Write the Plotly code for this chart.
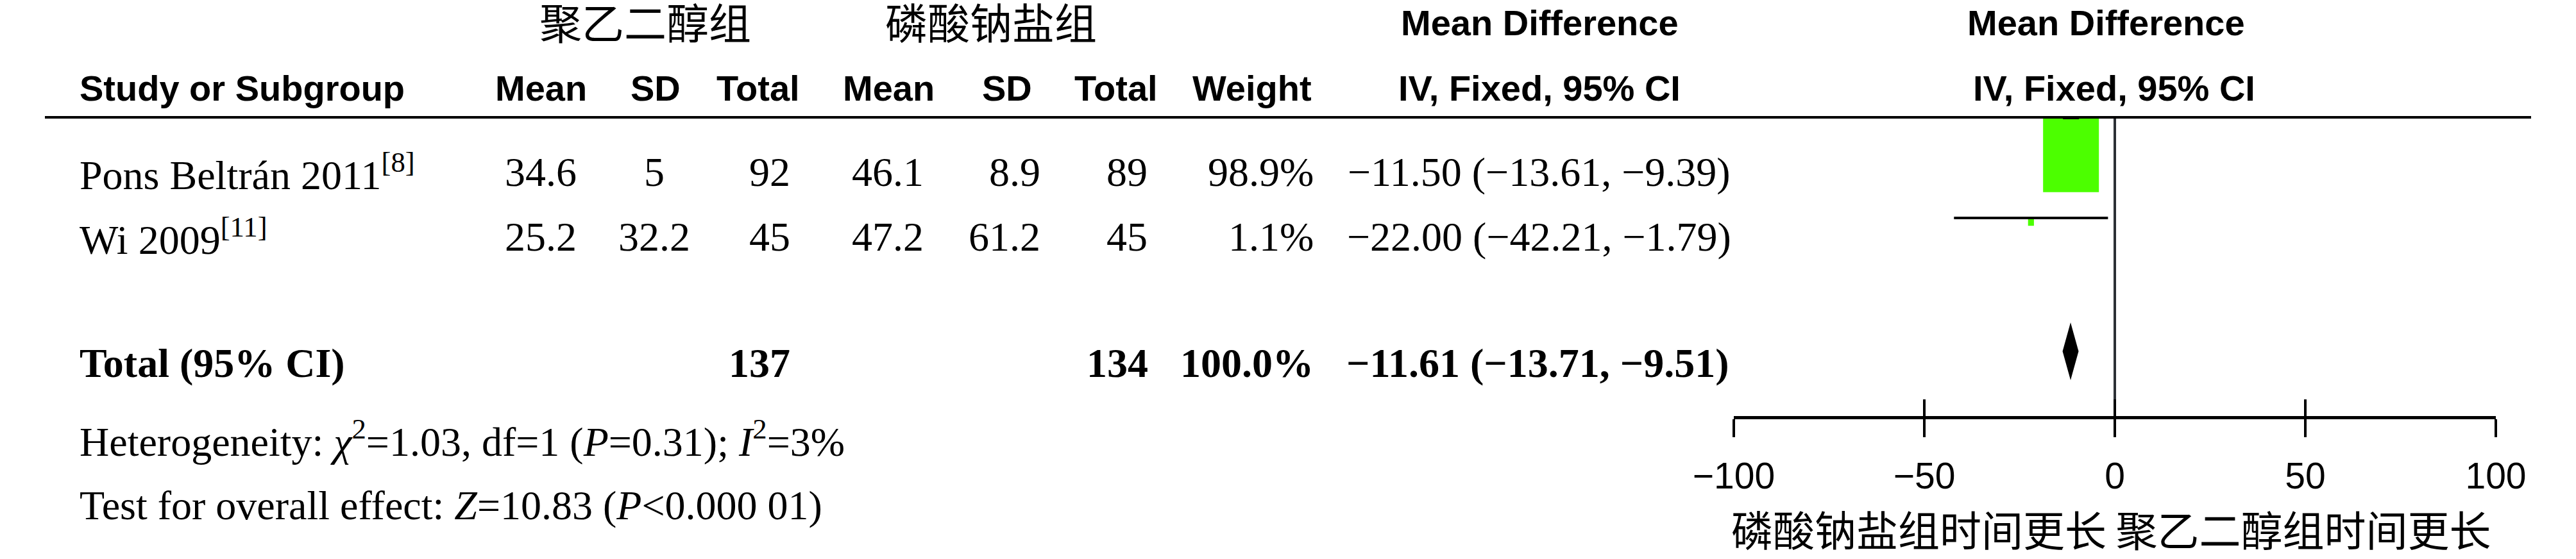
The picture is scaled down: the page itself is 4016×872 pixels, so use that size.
import math
import plotly.graph_objects as go

W, H = 4016, 872

# ---- study data -------------------------------------------------------
studies = ["Pons Beltrán 2011", "Wi 2009"]
study_refs = ["8", "11"]
peg_mean = [34.6, 25.2]
peg_sd = [5, 32.2]
peg_total = [92, 45]
sp_mean = [46.1, 47.2]
sp_sd = [8.9, 61.2]
sp_total = [89, 45]
weights = [98.9, 1.1]
md = [-11.50, -22.00]
md_low = [-13.61, -42.21]
md_high = [-9.39, -1.79]

# ---- pooled estimate --------------------------------------------------
pooled_md = -11.61
pooled_low = -13.71
pooled_high = -9.51
pooled_peg_total = 137
pooled_sp_total = 134
pooled_weight = 100.0

het_chi2, het_df, het_p, het_i2 = 1.03, 1, 0.31, 3
overall_z, overall_p = 10.83, "0.000 01"

axis_ticks = [-100, -50, 0, 50, 100]
group_labels = ["聚乙二醇组", "磷酸钠盐组"]
favours_label = "磷酸钠盐组时间更长 聚乙二醇组时间更长"

# ---- layout constants (pixel positions) ------------------------------
AX_LEFT, AX_RIGHT = 2703, 3891          # x pixels of -100 and 100
PX_PER_UNIT = (AX_RIGHT - AX_LEFT) / 200.0
Y_GROUP, Y_HEAD = 32, 137
Y_ROWS = [268, 369]
Y_TOTAL, Y_HET, Y_TEST = 566, 684, 788
Y_RULE, Y_AXIS = 183, 651
MARK_Y = [184, 340]                      # CI line height for each study
DIAMOND_Y, DIAMOND_HALF = 548, 45
SQUARE_SCALE = 1.473                     # square width (units) per sqrt(weight)
SQUARE_ASPECT = 1.33
GREEN = "#4CFF00"

HEAD_FONT = dict(family="Liberation Sans, Arial, sans-serif", size=56, color="black")
BODY_FONT = dict(family="Liberation Serif, Times New Roman, serif", size=64, color="black")
CJK_FONT = dict(family="Noto Sans CJK SC, sans-serif", size=66, color="black")
AXIS_CJK_FONT = dict(family="Noto Sans CJK SC, sans-serif", size=65, color="black")
TICK_FONT = dict(family="Liberation Sans, Arial, sans-serif", size=57, color="black")


def fmt(v, nd=2):
    return f"{v:.{nd}f}".replace("-", "−")


def num(v):
    return f"{v:g}"


fig = go.Figure()


def text(x, y, s, font, anchor="center"):
    fig.add_annotation(x=x / W, xref="paper", y=y, yref="y", text=s, showarrow=False,
                       xanchor=anchor, yanchor="middle", font=font, borderpad=0)


# ---- header ----------------------------------------------------------
text(1006, Y_GROUP, group_labels[0], CJK_FONT)
text(1545, Y_GROUP, group_labels[1], CJK_FONT)
text(2400, 35, "<b>Mean Difference</b>", HEAD_FONT)
text(3283, 35, "<b>Mean Difference</b>", HEAD_FONT)

head_cols = [(123, "Study or Subgroup", "left"), (843, "Mean", "center"), (1022, "SD", "center"),
             (1182, "Total", "center"), (1385, "Mean", "center"), (1570, "SD", "center"),
             (1740, "Total", "center"), (1952, "Weight", "center"),
             (2400, "IV, Fixed, 95% CI", "center"), (3296, "IV, Fixed, 95% CI", "center")]
for x, s, a in head_cols:
    text(x, Y_HEAD, f"<b>{s}</b>", HEAD_FONT, a)

fig.add_shape(type="line", xref="paper", yref="y", x0=70 / W, x1=3946 / W,
              y0=Y_RULE, y1=Y_RULE, line=dict(color="black", width=4))

# ---- study rows ------------------------------------------------------
for i, name in enumerate(studies):
    y = Y_ROWS[i]
    text(123, y, f"{name}<sup>[{study_refs[i]}]</sup>", BODY_FONT, "left")
    text(843, y, num(peg_mean[i]), BODY_FONT)
    text(1020, y, num(peg_sd[i]), BODY_FONT)
    text(1233, y, num(peg_total[i]), BODY_FONT, "right")
    text(1384, y, num(sp_mean[i]), BODY_FONT)
    text(1623, y, num(sp_sd[i]), BODY_FONT, "right")
    text(1790, y, num(sp_total[i]), BODY_FONT, "right")
    text(2049, y, f"{weights[i]:.1f}%", BODY_FONT, "right")
    text(2399, y, f"{fmt(md[i])} ({fmt(md_low[i])}, {fmt(md_high[i])})", BODY_FONT)

# ---- pooled row ------------------------------------------------------
text(123, Y_TOTAL, "<b>Total (95% CI)</b>", BODY_FONT, "left")
text(1233, Y_TOTAL, f"<b>{pooled_peg_total}</b>", BODY_FONT, "right")
text(1791, Y_TOTAL, f"<b>{pooled_sp_total}</b>", BODY_FONT, "right")
text(2049, Y_TOTAL, f"<b>{pooled_weight:.1f}%</b>", BODY_FONT, "right")
text(2397, Y_TOTAL, f"<b>{fmt(pooled_md)} ({fmt(pooled_low)}, {fmt(pooled_high)})</b>", BODY_FONT)

text(123, Y_HET,
     f"Heterogeneity: <i>χ</i><sup>2</sup>={het_chi2:.2f}, df={het_df} (<i>P</i>={het_p:.2f}); "
     f"<i>I</i><sup>2</sup>={het_i2}%", BODY_FONT, "left")
text(123, Y_TEST, f"Test for overall effect: <i>Z</i>={overall_z:.2f} (<i>P</i>&lt;{overall_p})",
     BODY_FONT, "left")

# ---- forest plot -----------------------------------------------------
fig.add_trace(go.Scatter(x=[0, 0], y=[Y_RULE + 1, Y_AXIS], mode="lines",
                         line=dict(color="#2c3035", width=4), hoverinfo="skip"))

for i in range(len(studies)):
    hw = SQUARE_SCALE * math.sqrt(weights[i]) / 2
    hgt = 2 * hw * PX_PER_UNIT * SQUARE_ASPECT
    top = MARK_Y[i]
    fig.add_trace(go.Scatter(
        x=[md[i] - hw, md[i] + hw, md[i] + hw, md[i] - hw, md[i] - hw],
        y=[top, top, top + hgt, top + hgt, top],
        mode="lines", fill="toself", fillcolor=GREEN, line=dict(width=0), hoverinfo="skip"))
    fig.add_trace(go.Scatter(x=[md_low[i], md_high[i]], y=[MARK_Y[i], MARK_Y[i]], mode="lines",
                             line=dict(color="black", width=4), hoverinfo="skip"))

fig.add_trace(go.Scatter(
    x=[pooled_low, pooled_md, pooled_high, pooled_md, pooled_low],
    y=[DIAMOND_Y, DIAMOND_Y - DIAMOND_HALF, DIAMOND_Y, DIAMOND_Y + DIAMOND_HALF, DIAMOND_Y],
    mode="lines", fill="toself", fillcolor="black", line=dict(width=0, color="black"),
    hoverinfo="skip"))

# upward tick marks come from an overlaid axis with inside ticks
fig.add_trace(go.Scatter(x=[0], y=[0], xaxis="x2", yaxis="y", mode="markers",
                         marker=dict(opacity=0), hoverinfo="skip"))

text((AX_LEFT + AX_RIGHT) / 2 - 6, 824, favours_label, AXIS_CJK_FONT)

tick_text = [num(t).replace("-", "−") for t in axis_ticks]
axis_pos = 1 - Y_AXIS / H
fig.update_layout(
    template="none",
    width=W, height=H, margin=dict(l=0, r=0, t=0, b=0, pad=0, autoexpand=False),
    paper_bgcolor="white", plot_bgcolor="rgba(0,0,0,0)", showlegend=False,
    xaxis=dict(domain=[AX_LEFT / W, AX_RIGHT / W], range=[-100, 100], anchor="free",
               position=axis_pos, showline=True, linecolor="black", linewidth=5,
               ticks="outside", ticklen=28, tickwidth=4, tickcolor="black",
               tickvals=axis_ticks, ticktext=tick_text, tickfont=TICK_FONT,
               ticklabelstandoff=12, showgrid=False, zeroline=False, fixedrange=True,
               automargin=False),
    xaxis2=dict(overlaying="x", range=[-100, 100], anchor="free", position=axis_pos,
                ticks="inside", ticklen=28, tickwidth=4, tickcolor="black",
                tickvals=axis_ticks, showticklabels=False, showline=False,
                showgrid=False, zeroline=False, fixedrange=True, automargin=False),
    yaxis=dict(domain=[0, 1], range=[H, 0], visible=False, fixedrange=True, automargin=False),
)

fig.write_html("out.html")
